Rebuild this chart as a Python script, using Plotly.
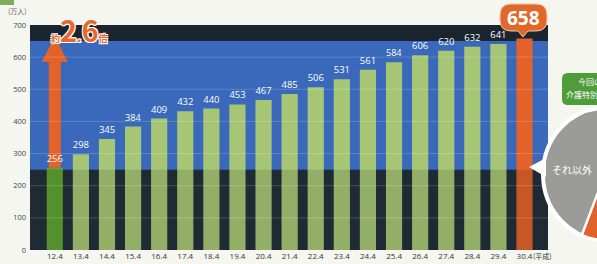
import math
import plotly.graph_objects as go

# ---- data ----
categories = ["12.4", "13.4", "14.4", "15.4", "16.4", "17.4", "18.4", "19.4", "20.4",
              "21.4", "22.4", "23.4", "24.4", "25.4", "26.4", "27.4", "28.4", "29.4", "30.4"]
values = [256, 298, 345, 384, 409, 432, 440, 453, 467, 485, 506, 531, 561, 584, 606, 620, 632, 641, 658]
y_ticks = [0, 100, 200, 300, 400, 500, 600, 700]
ratio_label = "2.6"
unit_label = "(万人)"
era_label = "(平成)"

W, H = 597, 264
ML, MR, MT, MB = 30, 49, 25, 14
PW, PH = W - ML - MR, H - MT - MB


def px(x):
    return (x - ML) / PW


def py(y):
    return (H - MB - y) / PH


def P(x, y):
    return f"{px(x):.4f},{py(y):.4f}"


n = len(values)
colors = ["#a6c676"] * n
colors[0] = "#5da232"
colors[-1] = "#e2622a"
texts = [str(v) for v in values]
texts[-1] = ""

fig = go.Figure()
fig.add_trace(go.Bar(
    x=categories, y=values, marker=dict(color=colors, line=dict(width=0)),
    width=0.62, text=texts, textposition="outside", cliponaxis=False,
    textfont=dict(color="white", size=9.5, family="Open Sans"),
    hoverinfo="skip",
))

shapes = []
# background bands
shapes.append(dict(type="rect", xref="x", yref="y", x0=-2, x1=20, y0=250, y1=650,
                   fillcolor="#3a68bb", line=dict(width=0), layer="below"))
shapes.append(dict(type="rect", xref="x", yref="y", x0=-2, x1=20, y0=650, y1=700,
                   fillcolor="#1b2530", line=dict(width=0), layer="below"))
# growth arrow
v0 = values[0]
shapes.append(dict(type="path", xref="x", yref="y",
                   path=f"M -0.23,{v0} L -0.23,585 L -0.5,585 L 0,665 L 0.5,585 L 0.23,585 L 0.23,{v0} Z",
                   fillcolor="#e2622a", line=dict(width=0), layer="below"))
# darker lower zone overlay
shapes.append(dict(type="rect", xref="x", yref="y", x0=-2, x1=20, y0=0, y1=250,
                   fillcolor="rgba(20,25,10,0.13)", line=dict(width=0), layer="above"))
# gridlines
for t in y_ticks[1:-1]:
    shapes.append(dict(type="line", xref="paper", yref="y", x0=0, x1=1, y0=t, y1=t,
                       line=dict(color="rgba(255,255,255,0.18)", width=1), layer="above"))

# 658 bubble
bx0, bx1, by0, by1, r = 500, 547, 4, 31, 11
bubble = (f"M {P(bx0 + r, by0)} L {P(bx1 - r, by0)} Q {P(bx1, by0)} {P(bx1, by0 + r)} "
          f"L {P(bx1, by1 - r)} Q {P(bx1, by1)} {P(bx1 - r, by1)} "
          f"L {P(528, by1)} L {P(523, 37)} L {P(518, by1)} "
          f"L {P(bx0 + r, by1)} Q {P(bx0, by1)} {P(bx0, by1 - r)} "
          f"L {P(bx0, by0 + r)} Q {P(bx0, by0)} {P(bx0 + r, by0)} Z")
shapes.append(dict(type="path", xref="paper", yref="paper", path=bubble,
                   fillcolor="#e2682a", line=dict(color="#f3c9a8", width=1), layer="above"))

# green label box (right side, cut)
gx0, gx1, gy0, gy1, gr = 562, 610, 73, 105, 6
gbox = (f"M {P(gx0 + gr, gy0)} L {P(gx1, gy0)} L {P(gx1, gy1)} L {P(gx0 + gr, gy1)} "
        f"Q {P(gx0, gy1)} {P(gx0, gy1 - gr)} L {P(gx0, gy0 + gr)} Q {P(gx0, gy0)} {P(gx0 + gr, gy0)} Z")
shapes.append(dict(type="path", xref="paper", yref="paper", path=gbox,
                   fillcolor="#4f9c3a", line=dict(width=0), layer="above"))

# pie (cut)
cx, cy, rx, ry = 605, 174, 62, 66
shapes.append(dict(type="circle", xref="paper", yref="paper",
                   x0=px(cx - rx), x1=px(cx + rx), y0=py(cy + ry), y1=py(cy - ry),
                   fillcolor="#9b9b99", line=dict(color="white", width=4), layer="above"))
pts = [P(cx, cy)]
for a in range(112, 30, -6):
    ang = math.radians(a)
    pts.append(P(cx + rx * math.cos(ang), cy + ry * math.sin(ang)))
shapes.append(dict(type="path", xref="paper", yref="paper",
                   path="M " + " L ".join(pts) + " Z",
                   fillcolor="#e0622a", line=dict(color="white", width=2.5), layer="above"))
# pointer
shapes.append(dict(type="path", xref="paper", yref="paper",
                   path=f"M {P(529, 167)} L {P(546, 158)} L {P(546, 177)} Z",
                   fillcolor="white", line=dict(width=0), layer="above"))
# corner green blob
shapes.append(dict(type="rect", xref="paper", yref="paper", x0=px(0), x1=px(14), y0=py(5), y1=py(0),
                   fillcolor="#7cb05a", line=dict(width=0), layer="above"))


def ann(text, x, y, font, xanchor="center"):
    return dict(text=text, x=px(x), y=py(y), xref="paper", yref="paper", showarrow=False,
                xanchor=xanchor, yanchor="middle", font=font)


outline = "1px 1px 0 white, -1px -1px 0 white, 1px -1px 0 white, -1px 1px 0 white, 0 1px 0 white, 0 -1px 0 white"
annotations = [
    ann(unit_label, 17, 11, dict(size=7, color="#666", family="Noto Sans CJK JP")),
    ann(f'<span style="font-size:9px">約</span>{ratio_label[0]}'
        f'<span style="font-size:13px">{ratio_label[1]}</span>{ratio_label[2]}'
        f'<span style="font-size:9px">倍</span>', 79, 29,
        dict(size=29, color="#e8672a", family="Noto Sans CJK JP", weight="bold", shadow=outline)),
    ann(str(values[-1]), 523.5, 18, dict(size=19, color="white", family="Open Sans", weight="bold")),
    ann(era_label, 542, 256, dict(size=7, color="#333", family="Noto Sans CJK JP")),
    ann("今回の", 576, 81, dict(size=8, color="white", family="Noto Sans CJK JP"), "left"),
    ann("介護特別", 564, 94, dict(size=8, color="white", family="Noto Sans CJK JP"), "left"),
    ann("それ以外", 550, 170, dict(size=10, color="white", family="Noto Sans CJK JP"), "left"),
]

fig.update_layout(
    width=W, height=H, margin=dict(l=ML, r=MR, t=MT, b=MB, autoexpand=False),
    paper_bgcolor="#f6f6f1", plot_bgcolor="#1f2e3b",
    showlegend=False, shapes=shapes, annotations=annotations,
    xaxis=dict(type="category", range=[-0.95, 18.9], showgrid=False, zeroline=False,
               showline=False, ticks="", tickfont=dict(size=8, color="#333", family="Open Sans"),
               ticklabelstandoff=0, automargin=False),
    yaxis=dict(range=[0, 700], tickvals=y_ticks, showgrid=False, zeroline=False, showline=False,
               ticks="", tickfont=dict(size=7.5, color="#444", family="Open Sans"),
               ticklabelstandoff=3, automargin=False),
    font=dict(family="Open Sans"),
)

fig.write_html("out.html", config={"displayModeBar": False},
               post_script="document.body.style.margin='0';document.body.style.overflow='hidden';")
